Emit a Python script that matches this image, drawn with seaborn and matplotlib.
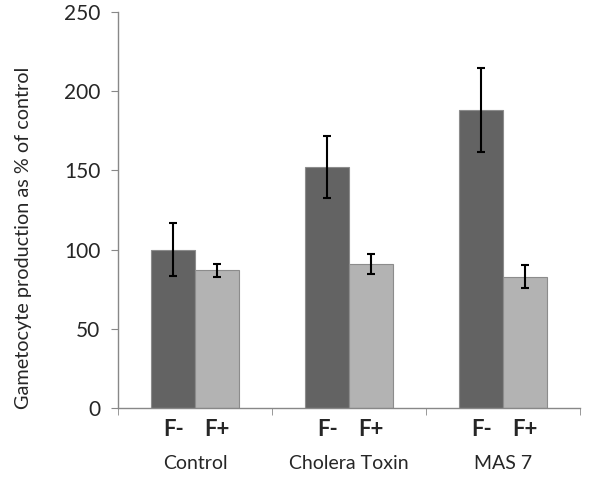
import matplotlib
matplotlib.use("Agg")
import matplotlib.pyplot as plt
import matplotlib.transforms as mtransforms
import seaborn as sns
import pandas as pd

# values
groups = ["Control", "Cholera Toxin", "MAS 7"]
f_minus = [100, 152, 188]
f_plus = [87, 91, 83]
f_minus_err = [16.5, 19.5, 26.5]
f_plus_err = [4, 6.5, 7]
conditions = ["F-", "F+"]

df = pd.DataFrame({
    "group": groups * 2,
    "cond": [conditions[0]] * 3 + [conditions[1]] * 3,
    "value": f_minus + f_plus,
    "err": f_minus_err + f_plus_err,
})

sns.set_style("white")
plt.rcParams["font.family"] = ["Lato", "DejaVu Sans"]

fig = plt.figure(figsize=(6, 4.78), dpi=100)
ax = fig.add_axes([0.197, 0.1464, 0.77, 0.8286])

sns.barplot(data=df, x="group", y="value", hue="cond", order=groups,
            hue_order=conditions, palette=["#636363", "#b3b3b3"],
            errorbar=None, width=0.571, gap=0, legend=False,
            edgecolor="#8c8c8c", linewidth=0.8, saturation=1, ax=ax)

# error bars at the bar centres
xs, ys, es = [], [], []
for cont, cond in zip(ax.containers, conditions):
    sub = df[df["cond"] == cond].set_index("group").loc[groups]
    for bar, v, e in zip(cont, sub["value"], sub["err"]):
        xs.append(bar.get_x() + bar.get_width() / 2)
        ys.append(v)
        es.append(e)
ax.errorbar(xs, ys, yerr=es, fmt="none", ecolor="black",
            elinewidth=1.5, capsize=3, capthick=1.5, zorder=5)

ax.set_xlim(-0.5, 2.5)
ax.set_ylim(0, 250)
ax.set_yticks([0, 50, 100, 150, 200, 250])
ax.tick_params(axis="y", labelsize=15, length=5, color="#888888",
               direction="out", left=True, pad=8)

# bar labels as ticks, group boundaries as minor ticks
ax.set_xticks(sorted(xs))
ax.set_xticklabels(conditions * 3, fontsize=16, fontweight="bold")
ax.tick_params(axis="x", which="major", length=0, pad=8)
ax.set_xticks([-0.5, 0.5, 1.5, 2.5], minor=True)
ax.tick_params(axis="x", which="minor", length=5, color="#888888",
               direction="out", bottom=True)

trans = mtransforms.blended_transform_factory(ax.transData, ax.transAxes)
for i, g in enumerate(groups):
    ax.text(i, -0.14, g, transform=trans, ha="center", va="center",
            fontsize=14)

ax.set_xlabel("")
ax.set_ylabel("Gametocyte production as % of control", fontsize=14.3)
ax.yaxis.set_label_coords(-0.186, 0.43)

for s in ["top", "right"]:
    ax.spines[s].set_visible(False)
for s in ["left", "bottom"]:
    ax.spines[s].set_color("#888888")
    ax.spines[s].set_linewidth(1)

fig.savefig("out.png", dpi=100)
